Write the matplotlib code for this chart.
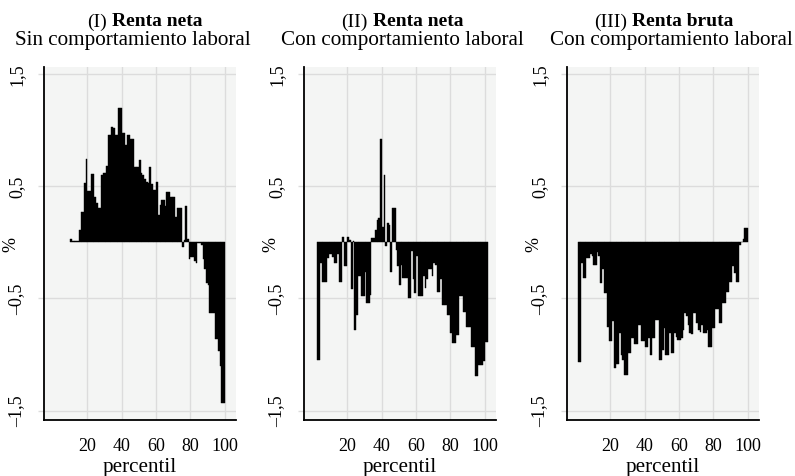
import numpy as np
import matplotlib
matplotlib.use('Agg')
import matplotlib.pyplot as plt

plt.rcParams['font.family'] = ['Liberation Serif', 'DejaVu Serif']

# percentile (left edge of each bar) and change in %, one pair per panel
pct_neta_sin = np.arange(10, 100)
val_neta_sin = [
    0.03, 0.015, 0.015, 0.015, 0.015, 0.11, 0.27, 0.27, 0.53, 0.74,
    0.46, 0.46, 0.61, 0.61, 0.40, 0.35, 0.31, 0.31, 0.60, 0.62,
    0.62, 0.68, 0.96, 0.96, 1.03, 1.02, 0.96, 0.96, 1.20, 1.20,
    0.97, 0.97, 0.87, 0.96, 0.96, 0.92, 0.92, 0.67, 0.67, 0.67,
    0.73, 0.62, 0.60, 0.56, 0.54, 0.53, 0.67, 0.52, 0.47, 0.47,
    0.54, 0.24, 0.33, 0.38, 0.38, 0.32, 0.45, 0.45, 0.40, 0.40,
    0.40, 0.23, 0.31, 0.31, 0.31, -0.04, 0.02, 0.32, 0.03, -0.15,
    -0.13, -0.13, -0.17, -0.18, -0.01, -0.01, -0.02, -0.15, -0.24, -0.36,
    -0.38, -0.63, -0.63, -0.63, -0.86, -0.86, -0.97, -1.10, -1.43, -1.43,
]

pct_neta_con = np.arange(2, 102)
val_neta_con = [
    -1.05, -1.05, -0.18, -0.35, -0.35, -0.35, -0.14, -0.10, -0.10, -0.13,
    -0.18, -0.18, -0.10, -0.35, -0.35, 0.05, -0.21, -0.21, 0.05, 0.02,
    -0.42, 0.01, -0.78, -0.65, -0.30, -0.30, -0.48, -0.48, -0.26, -0.54,
    -0.54, -0.47, 0.04, 0.04, 0.11, 0.20, 0.22, 0.92, 0.14, 0.60,
    -0.03, 0.17, 0.15, -0.26, 0.31, 0.31, -0.07, -0.21, -0.38, -0.20,
    -0.32, -0.32, -0.32, -0.50, -0.50, -0.08, -0.33, -0.45, -0.12, -0.48,
    -0.48, -0.48, -0.30, -0.41, -0.33, -0.24, -0.24, -0.30, -0.18, -0.20,
    -0.44, -0.44, -0.33, -0.56, -0.56, -0.56, -0.65, -0.65, -0.81, -0.90,
    -0.90, -0.83, -0.83, -0.48, -0.48, -0.62, -0.62, -0.75, -0.75, -0.75,
    -0.93, -0.93, -1.19, -1.19, -1.09, -1.09, -1.09, -1.06, -0.89, -0.89,
]

pct_bruta_con = np.arange(1, 100)
val_bruta_con = [
    -1.07, -1.07, -0.18, -0.32, -0.32, -0.14, -0.14, -0.10, -0.12, -0.20,
    -0.20, -0.09, -0.12, -0.36, -0.24, -0.45, -0.45, -0.75, -0.88, -0.88,
    -0.70, -1.12, -1.08, -1.08, -0.81, -1.00, -1.05, -1.18, -1.18, -0.99,
    -0.99, -0.85, -0.85, -0.91, -0.91, -0.74, -0.74, -0.88, -0.88, -0.93,
    -0.93, -0.85, -1.00, -0.85, -0.85, -0.69, -0.69, -1.05, -1.05, -0.96,
    -0.76, -1.00, -1.00, -0.81, -0.99, -0.99, -0.81, -0.84, -0.87, -0.87,
    -0.85, -0.78, -0.63, -0.66, -0.74, -0.81, -0.82, -0.63, -0.63, -0.72,
    -0.78, -0.80, -0.74, -0.81, -0.81, -0.78, -0.93, -0.93, -0.76, -0.76,
    -0.59, -0.59, -0.72, -0.72, -0.54, -0.54, -0.44, -0.44, -0.35, -0.35,
    -0.21, -0.27, -0.35, -0.35, -0.02, 0.00, 0.03, 0.13, 0.13,
]

panel_num = ['(I)', '(II)', '(III)']
panel_bold = ['Renta neta', 'Renta neta', 'Renta bruta']
panel_sub = ['Sin comportamiento laboral', 'Con comportamiento laboral',
             'Con comportamiento laboral']
xticks = [20, 40, 60, 80, 100]
yticks = [1.5, 0.5, -0.5, -1.5]
ytick_labels = ['1,5', '0,5', '\u20130,5', '\u20131,5']

series = [(pct_neta_sin, val_neta_sin),
          (pct_neta_con, val_neta_con),
          (pct_bruta_con, val_bruta_con)]

W, H = 795, 477
fig = plt.figure(figsize=(W / 100, H / 100), dpi=100)

# layout in pixels
ax_left = [44, 304, 567]
ax_w = 192
ax_top, ax_bot = 68, 421
title_cx1 = [144.5, 402.5, 663.5]
title_cx2 = [133.0, 402.5, 671.5]
base1, base2 = 26.5, 45.0

bg = '#f4f5f4'
grid_c = '#dcdcdc'
fs_head = 14
fs_text = 15.2
fs_tick = 13

renderer = fig.canvas.get_renderer()

for i, (pct, val) in enumerate(series):
    ax = fig.add_axes([ax_left[i] / W, 1 - ax_bot / H, ax_w / W, (ax_bot - ax_top) / H])
    ax.set_facecolor(bg)
    ax.bar(pct, val, width=1.0, align='edge', color='black',
           edgecolor='black', linewidth=0.3, zorder=3)

    ax.set_xlim(-5.3, 106.5)
    ax.set_ylim(-1.583, 1.562)
    ax.set_xticks(xticks)
    ax.set_yticks(yticks)
    ax.set_yticklabels(ytick_labels, rotation=90, va='center')
    ax.tick_params(axis='x', length=0, pad=12.5, labelsize=fs_tick)
    ax.tick_params(axis='y', length=4, width=1, color=grid_c, pad=9.5, labelsize=fs_tick)
    ax.grid(True, color=grid_c, linewidth=1.0, zorder=0)
    ax.set_axisbelow(True)

    for s in ['top', 'right']:
        ax.spines[s].set_visible(False)
    for s in ['left', 'bottom']:
        ax.spines[s].set_linewidth(1.3)
        ax.spines[s].set_color('black')

    ax.set_xlabel('percentil', fontsize=fs_text, labelpad=2)

    # "%" axis title, placed left of the rotated tick labels
    fig.text((ax_left[i] - 33) / W, 1 - 244 / H, '%', rotation=90,
             fontsize=fs_tick, ha='center', va='center')

    # two-weight first title line, centred as a whole
    t1 = fig.text(0, 1 - base1 / H, panel_num[i], fontsize=fs_head, va='baseline')
    t2 = fig.text(0, 1 - base1 / H, panel_bold[i], fontsize=fs_head,
                  fontweight='bold', va='baseline')
    w1 = t1.get_window_extent(renderer).width
    w2 = t2.get_window_extent(renderer).width
    gap = 5
    x0 = title_cx1[i] - (w1 + gap + w2) / 2
    t1.set_x(x0 / W)
    t2.set_x((x0 + w1 + gap) / W)

    fig.text(title_cx2[i] / W, 1 - base2 / H, panel_sub[i], fontsize=fs_text,
             ha='center', va='baseline')

fig.savefig('out.png', dpi=100, facecolor='white')
